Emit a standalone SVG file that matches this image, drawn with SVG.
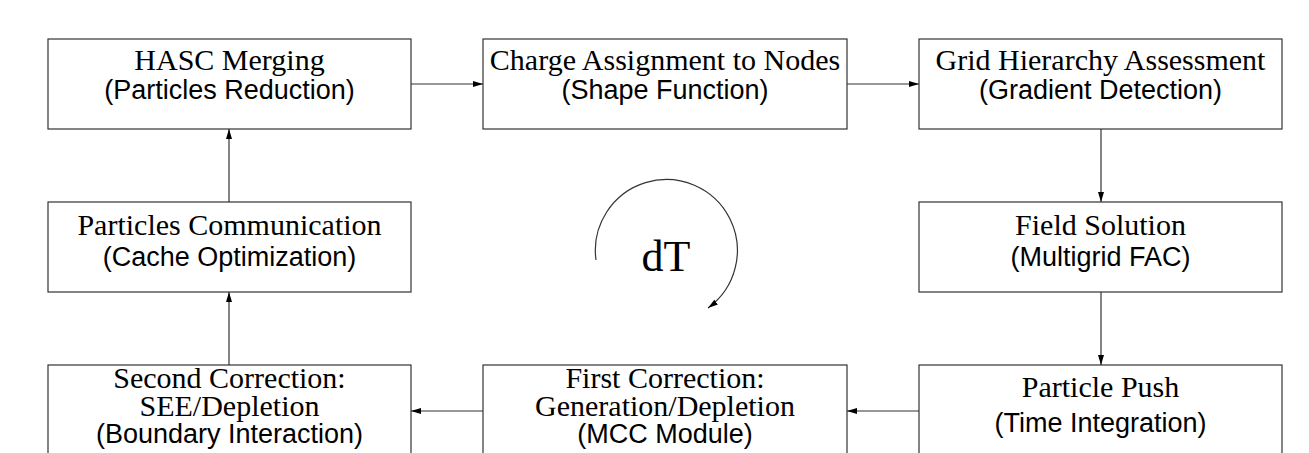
<svg xmlns="http://www.w3.org/2000/svg" width="1309" height="453" viewBox="0 0 1309 453">
<defs>
<style>
.box{fill:#fff;stroke:#333;stroke-width:1.2}
.t{font-family:"Liberation Serif","Times New Roman",serif;font-size:30px;fill:#000;text-anchor:middle}
.s{font-family:"Liberation Sans",Arial,sans-serif;font-size:27px;fill:#000;text-anchor:middle}
.c{fill:none;stroke:#333;stroke-width:1.2}
</style>
<marker id="ah" viewBox="0 0 10 6" refX="10" refY="3" markerWidth="10" markerHeight="6" markerUnits="userSpaceOnUse" orient="auto">
<path d="M0,0 L10,3 L0,6 Z" fill="#000"/>
</marker>
</defs>
<rect width="1309" height="453" fill="#fff"/>
<g id="connectors">
<line class="c" x1="411" y1="84" x2="483" y2="84" marker-end="url(#ah)"/>
<line class="c" x1="847" y1="84" x2="919" y2="84" marker-end="url(#ah)"/>
<line class="c" x1="1101" y1="129" x2="1101" y2="202" marker-end="url(#ah)"/>
<line class="c" x1="1101" y1="292" x2="1101" y2="365" marker-end="url(#ah)"/>
<line class="c" x1="919" y1="411" x2="847" y2="411" marker-end="url(#ah)"/>
<line class="c" x1="483" y1="411" x2="411" y2="411" marker-end="url(#ah)"/>
<line class="c" x1="229" y1="365" x2="229" y2="292" marker-end="url(#ah)"/>
<line class="c" x1="229" y1="202" x2="229" y2="129" marker-end="url(#ah)"/>
<path class="c" d="M596,260 A71,71 0 1 1 708,308" marker-end="url(#ah)"/>
</g>
<g id="dT"><text x="666" y="271" font-family="Liberation Serif,serif" font-size="44" text-anchor="middle">dT</text></g>
<g id="hasc">
<rect class="box" x="48" y="39" width="363" height="90"/>
<text class="t" x="229.5" y="70">HASC Merging</text>
<text class="s" x="229.5" y="99">(Particles Reduction)</text>
</g>
<g id="charge">
<rect class="box" x="483" y="39" width="364" height="90"/>
<text class="t" x="665" y="70">Charge Assignment to Nodes</text>
<text class="s" x="665" y="99">(Shape Function)</text>
</g>
<g id="grid">
<rect class="box" x="919" y="39" width="363" height="90"/>
<text class="t" x="1100.5" y="70">Grid Hierarchy Assessment</text>
<text class="s" x="1100.5" y="99">(Gradient Detection)</text>
</g>
<g id="comm">
<rect class="box" x="48" y="202" width="363" height="90"/>
<text class="t" x="229.5" y="235">Particles Communication</text>
<text class="s" x="229.5" y="266">(Cache Optimization)</text>
</g>
<g id="field">
<rect class="box" x="919" y="202" width="363" height="90"/>
<text class="t" x="1100.5" y="235">Field Solution</text>
<text class="s" x="1100.5" y="266">(Multigrid FAC)</text>
</g>
<g id="second">
<rect class="box" x="48" y="365" width="363" height="100"/>
<text class="t" x="229.5" y="388">Second Correction:</text>
<text class="t" x="229.5" y="416">SEE/Depletion</text>
<text class="s" x="229.5" y="443">(Boundary Interaction)</text>
</g>
<g id="first">
<rect class="box" x="483" y="365" width="364" height="100"/>
<text class="t" x="665" y="388">First Correction:</text>
<text class="t" x="665" y="416">Generation/Depletion</text>
<text class="s" x="665" y="443">(MCC Module)</text>
</g>
<g id="push">
<rect class="box" x="919" y="365" width="363" height="100"/>
<text class="t" x="1100.5" y="397">Particle Push</text>
<text class="s" x="1100.5" y="432">(Time Integration)</text>
</g>
</svg>
